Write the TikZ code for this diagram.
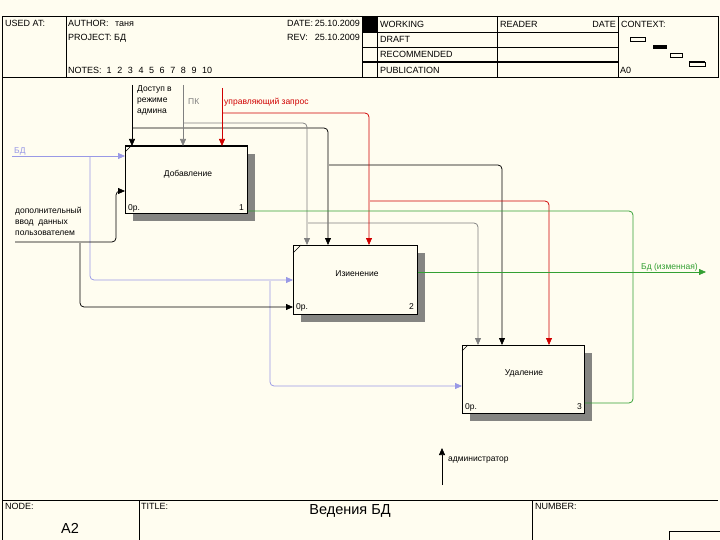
\documentclass[tikz,border=0pt]{standalone}
\usepackage{fontspec}
\setmainfont{Liberation Sans}
\usetikzlibrary{arrows.meta}
\definecolor{bgc}{HTML}{FFFDF0}
\definecolor{cgray}{HTML}{808080}
\definecolor{cred}{HTML}{D00000}
\definecolor{cblue}{HTML}{9999E6}
\definecolor{cgreen}{HTML}{33A033}
\definecolor{shadowc}{HTML}{858582}
\newcommand{\nsp}{\hspace{5.6pt}}
\begin{document}
\begin{tikzpicture}[x=1pt,y=-1pt,
  txt/.style={font=\fontsize{8.5}{11}\selectfont, inner sep=0pt, anchor=west},
  hdr/.style={font=\fontsize{9}{11}\selectfont, inner sep=0pt, anchor=base west},
  big/.style={font=\fontsize{14.5}{16}\selectfont, inner sep=0pt},
  frm/.style={line width=0.8pt},
  fbox/.style={draw, fill=bgc, line width=0.9pt, anchor=north west, inner sep=0pt},
  con/.style={line width=0.75pt, rounded corners=4pt},
  arr/.style={con, -{Triangle[length=7pt,width=6pt]}}]
\useasboundingbox (0,0) rectangle (720,540);
\fill[bgc] (0,0) rectangle (720,540);

% ---------- frame and header ----------
\draw[frm] (2,540) -- (2,16) -- (718,16) -- (718,77) -- (2,77);
\draw[frm] (66,16) -- (66,77);
\draw[frm] (362,16) -- (362,77);
\draw[frm] (377,16) -- (377,77);
\draw[frm] (497,16) -- (497,77);
\draw[frm] (618,16) -- (618,77);
\fill (362,16) rectangle (377,32);
\draw[frm] (362,32) -- (618,32);
\draw[frm] (362,47) -- (618,47);
\draw[line width=1.6pt] (362,62) -- (618,62);

\node[hdr] (usedat) at (5,26.5) {USED AT:};
\node[hdr] (author) at (68,26.5) {AUTHOR:};
\node[hdr] (authorv) at (115,26.5) {таня};
\node[hdr] (project) at (68,40.5) {PROJECT:};
\node[hdr] (projectv) at (114,40.5) {БД};
\node[hdr] (notes) at (68,73.5) {NOTES:\hspace{5pt}1\nsp 2\nsp 3\nsp 4\nsp 5\nsp 6\nsp 7\nsp 8\nsp 9\nsp 10};
\node[hdr] (date) at (287,26.5) {DATE:};
\node[hdr, anchor=base east] (datev) at (360,26.5) {25.10.2009};
\node[hdr] (rev) at (287,40.5) {REV:};
\node[hdr, anchor=base east] (revv) at (360,40.5) {25.10.2009};
\node[hdr] (working) at (380,27.5) {WORKING};
\node[hdr] (draft) at (380,42.5) {DRAFT};
\node[hdr] (recom) at (380,57.5) {RECOMMENDED};
\node[hdr] (publ) at (380,73.5) {PUBLICATION};
\node[hdr] (reader) at (500,27.5) {READER};
\node[hdr, anchor=base east] (rdate) at (616,27.5) {DATE};
\node[hdr] (context) at (621,27.5) {CONTEXT:};
\node[hdr] (azero) at (620,73.5) {A0};
\draw[line width=0.7pt] (630,37) rectangle (645,41);
\fill (653,45) rectangle (667,49);
\draw[line width=0.7pt] (670,53) rectangle (682,57);
\draw[line width=0.7pt] (689,62) rectangle (705,66);
\draw[line width=1.4pt] (689,62) -- (705,62);

% ---------- footer ----------
\draw[frm] (2,500) -- (718,500);
\draw[frm] (139,500) -- (139,540);
\draw[frm] (532,500) -- (532,540);
\draw[frm] (669,540) -- (669,531) -- (720,531);
\node[hdr] (node) at (5,509.5) {NODE:};
\node[big] (nodev) at (70,528) {A2};
\node[hdr] (title) at (141,509.5) {TITLE:};
\node[big] (titlev) at (350,511) {Ведения БД};
\node[hdr] (number) at (535,509.5) {NUMBER:};

% ---------- shadows ----------
\fill[shadowc] (133,154) rectangle (255,221);
\fill[shadowc] (301,253) rectangle (425,322);
\fill[shadowc] (470,353) rectangle (592,421);

% ---------- boxes ----------
\node[fbox, minimum width=122pt, minimum height=67pt] (b1) at (125,146) {};
\node[fbox, minimum width=124pt, minimum height=69pt] (b2) at (293,245) {};
\node[fbox, minimum width=122pt, minimum height=68pt] (b3) at (462,345) {};
\draw[line width=2pt] (b1.north west) -- (b1.north east);
\draw[line width=0.5pt] (125,152) -- (131,146);
\draw[line width=0.5pt] (293,253) -- (301,245);
\draw[line width=0.5pt] (462,351) -- (468,345);

\node[txt, anchor=center] (t1) at (188,174) {Добавление};
\node[txt, anchor=center] (t2) at (357,274) {Изиенение};
\node[txt, anchor=center] (t3) at (524,373) {Удаление};
\node[txt] (o1) at (128,208) {0р.};
\node[txt, anchor=east] (n1) at (244,208) {1};
\node[txt] (o2) at (296,307) {0р.};
\node[txt, anchor=east] (n2) at (414,307) {2};
\node[txt] (o3) at (465,407) {0р.};
\node[txt, anchor=east] (n3) at (582,407) {3};

% ---------- controls ----------
\coordinate (kA) at (132,85);
\coordinate (kA1) at (133,128);
\coordinate (kA2) at (329,165);
\draw[arr] (kA) -- (kA |- b1.north);
\draw[arr] (kA1) -- (328,128) -- (328,0 |- b2.north);
\draw[arr] (kA2) -- (502,165) -- (502,0 |- b3.north);

\coordinate (kB) at (183,85);
\coordinate (kB1) at (184,123);
\coordinate (kB2) at (308,223);
\draw[arr, cgray] (kB) -- (kB |- b1.north);
\draw[arr, cgray] (kB1) -- (307,123) -- (307,0 |- b2.north);
\draw[arr, cgray] (kB2) -- (478,223) -- (478,0 |- b3.north);

\coordinate (kC) at (222,88);
\coordinate (kC1) at (223,113);
\coordinate (kC2) at (370,201);
\draw[arr, cred] (kC) -- (kC |- b1.north);
\draw[arr, cred] (kC1) -- (369,113) -- (369,0 |- b2.north);
\draw[arr, cred] (kC2) -- (549,201) -- (549,0 |- b3.north);

% ---------- inputs ----------
\coordinate (iA) at (12,156);
\coordinate (iA1) at (90,157);
\coordinate (iA2) at (270,281);
\draw[arr, cblue] (iA) -- (iA -| b1.west);
\draw[arr, cblue] (iA1) -- (90,280) -- (0,280 -| b2.west);
\draw[arr, cblue] (iA2) -- (270,386) -- (0,386 -| b3.west);

\coordinate (iB) at (15,242);
\coordinate (iB1) at (80,243);
\draw[arr] (iB) -- (116,242) -- (116,191) -- (0,191 -| b1.west);
\draw[arr] (iB1) -- (80,307) -- (0,307 -| b2.west);

% ---------- outputs ----------
\coordinate (oA) at (706,272);
\draw[con, cgreen] (b1.east |- 0,211) -- (633,211) -- (633,403) -- (b3.east |- 0,403);
\draw[arr, cgreen] (b2.east |- 0,272) -- (oA);

% ---------- mechanism ----------
\coordinate (mA) at (442,485);
\coordinate (mB) at (442,448);
\draw[arr] (mA) -- (mB);

% ---------- arrow labels ----------
\node[txt, align=left, anchor=north west] (lA) at (137,85) {Доступ в\\режиме\\админа};
\node[txt, cgray] (lB) at (188,102) {ПК};
\node[txt, cred] (lC) at (224,102) {управляющий запрос};
\node[txt, cblue] (lD) at (14,151) {БД};
\node[txt, align=left, anchor=north west] (lE) at (15,207) {дополнительный\\ввод\ \ данных\\пользователем};
\node[txt, cgreen] (lF) at (641,267) {Бд (изменная)};
\node[txt] (lG) at (448,460) {администратор};
\end{tikzpicture}
\end{document}
